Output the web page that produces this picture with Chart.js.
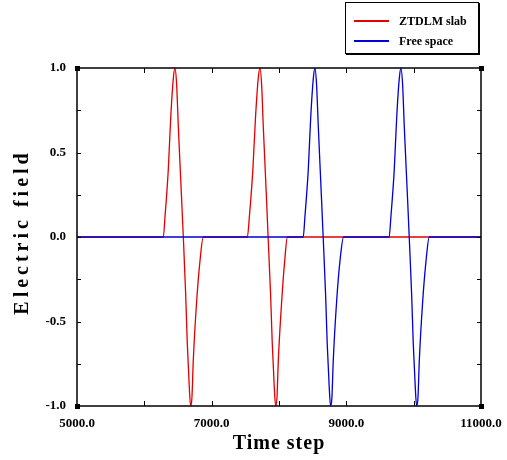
<!DOCTYPE html>
<html lang="en">
<head>
  <meta charset="UTF-8" />
  <title>Electric field vs time step</title>
  <script src="https://cdn.jsdelivr.net/npm/chart.js"></script>
  <style>
    html, body { margin: 0; padding: 0; background: #fff; }
    #wrap { position: relative; width: 507px; height: 460px; }
    #legend {
      position: absolute; left: 345px; top: 2px; width: 132px; height: 50px;
      border: 1px solid #000; box-shadow: 1px 1px 0 #000; background: #fff;
      font: bold 12px "Liberation Serif", serif; color: #000;
    }
    #legend .row { position: absolute; left: 8px; height: 14px; display: flex; align-items: center; }
    #legend .swatch { display: inline-block; width: 35px; height: 1.5px; margin-right: 10px; }
  </style>
</head>
<body>
  <div id="wrap">
    <canvas id="fieldChart" width="507" height="460"></canvas>
    <div id="legend"></div>
  </div>

  <script>
    // series labels / colours
    const seriesNames = ['ZTDLM slab', 'Free space'];
    const seriesColors = ['rgb(228,0,0)', 'rgb(0,0,215)'];

    // ZTDLM slab
    const redSteps = [5000, 6282, 6307, 6356, 6391, 6431, 6455, 6480, 6505, 6554, 6579, 6614, 6638, 6668, 6688, 6707, 6727, 6777, 6827, 6876,
                      7530, 7560, 7612, 7650, 7692, 7717, 7742, 7767, 7815, 7838, 7875, 7900, 7930, 7950, 7970, 7990, 8040, 8085, 8125, 11000];
    const redField = [0, 0, 0.12, 0.4, 0.7, 0.94, 1.0, 0.9, 0.65, 0.22, 0, -0.34, -0.63, -0.89, -1.0, -0.95, -0.73, -0.38, -0.14, 0,
                      0, 0.12, 0.4, 0.7, 0.94, 1.0, 0.9, 0.65, 0.22, 0, -0.34, -0.63, -0.89, -1.0, -0.95, -0.73, -0.38, -0.14, 0, 0];

    // Free space
    const blueSteps = [5000, 8360, 8385, 8435, 8470, 8510, 8534, 8558, 8584, 8632, 8656, 8692, 8716, 8746, 8766, 8786, 8806, 8856, 8906, 8960,
                       9636, 9662, 9712, 9747, 9787, 9811, 9836, 9861, 9910, 9934, 9970, 9994, 10024, 10044, 10064, 10084, 10134, 10184, 10232, 11000];
    const blueField = [0, 0, 0.12, 0.4, 0.7, 0.94, 1.0, 0.9, 0.65, 0.22, 0, -0.34, -0.63, -0.89, -1.0, -0.95, -0.73, -0.38, -0.14, 0,
                       0, 0.12, 0.4, 0.7, 0.94, 1.0, 0.9, 0.65, 0.22, 0, -0.34, -0.63, -0.89, -1.0, -0.95, -0.73, -0.38, -0.14, 0, 0];

    // axes
    const xTickLabels = ['5000.0', '7000.0', '9000.0', '11000.0'];
    const yTickLabels = ['-1.0', '-0.5', '0.0', '0.5', '1.0'];
    const xTitle = 'Time step';
    const yTitle = 'Electric field';

    function toPoints(xs, ys) {
      return xs.map((x, i) => ({ x: x, y: ys[i] }));
    }

    // legend (html)
    const legend = document.getElementById('legend');
    seriesNames.forEach((name, i) => {
      const row = document.createElement('div');
      row.className = 'row';
      row.style.top = (11 + i * 20) + 'px';
      const sw = document.createElement('span');
      sw.className = 'swatch';
      sw.style.backgroundColor = seriesColors[i];
      row.appendChild(sw);
      row.appendChild(document.createTextNode(name));
      legend.appendChild(row);
    });

    // frame, inward ticks, corner squares, axis titles
    const framePlugin = {
      id: 'frame',
      afterDraw(chart) {
        const { ctx, chartArea: a, scales } = chart;
        ctx.save();
        ctx.strokeStyle = '#000';
        ctx.fillStyle = '#000';
        ctx.lineWidth = 1.5;
        ctx.strokeRect(a.left, a.top, a.right - a.left, a.bottom - a.top);

        ctx.lineWidth = 1;
        ctx.beginPath();
        for (let v = 6000; v <= 10000; v += 1000) {
          const px = Math.round(scales.x.getPixelForValue(v)) + 0.5;
          ctx.moveTo(px, a.bottom); ctx.lineTo(px, a.bottom - 5);
          ctx.moveTo(px, a.top); ctx.lineTo(px, a.top + 5);
        }
        for (let v = -0.75; v <= 0.75; v += 0.25) {
          const py = Math.round(scales.y.getPixelForValue(v)) + 0.5;
          ctx.moveTo(a.left, py); ctx.lineTo(a.left + 4, py);
          ctx.moveTo(a.right, py); ctx.lineTo(a.right - 4, py);
        }
        ctx.stroke();

        [[a.left, a.top], [a.right, a.top], [a.left, a.bottom], [a.right, a.bottom]].forEach(p => {
          ctx.fillRect(p[0] - 2, p[1] - 2, 5, 5);
        });

        ctx.font = 'bold 20px "Liberation Serif", serif';
        ctx.letterSpacing = '1px';
        ctx.textAlign = 'center';
        ctx.textBaseline = 'middle';
        ctx.fillText(xTitle, (a.left + a.right) / 2, 444);
        ctx.translate(23, 232);
        ctx.rotate(-Math.PI / 2);
        ctx.letterSpacing = '4px';
        ctx.fillText(yTitle, 0, 0);
        ctx.restore();
      }
    };

    const ctx = document.getElementById('fieldChart').getContext('2d');
    const fieldChart = new Chart(ctx, {
      type: 'line',
      data: {
        datasets: [
          {
            label: seriesNames[0],
            data: toPoints(redSteps, redField),
            borderColor: seriesColors[0],
            borderWidth: 1.3,
            pointRadius: 0,
            cubicInterpolationMode: 'monotone',
            order: 1
          },
          {
            label: seriesNames[1],
            data: toPoints(blueSteps, blueField),
            borderColor: seriesColors[1],
            borderWidth: 1.3,
            pointRadius: 0,
            cubicInterpolationMode: 'monotone',
            order: 0
          }
        ]
      },
      options: {
        responsive: false,
        animation: false,
        layout: { padding: { left: 0, top: 68, right: 26, bottom: 0 } },
        plugins: {
          legend: { display: false },
          tooltip: { enabled: false }
        },
        scales: {
          x: {
            type: 'linear',
            min: 5000,
            max: 11000,
            grid: { display: false },
            border: { display: false },
            afterFit(scale) { scale.height = 54; },
            ticks: {
              stepSize: 1000,
              autoSkip: false,
              maxRotation: 0,
              padding: 2,
              color: '#000',
              font: { family: '"Liberation Serif", serif', size: 13, weight: 'bold' },
              callback: v => xTickLabels.find(l => parseFloat(l) === v) || ''
            }
          },
          y: {
            min: -1,
            max: 1,
            grid: { display: false },
            border: { display: false },
            afterFit(scale) { scale.width = 77; },
            ticks: {
              stepSize: 0.5,
              padding: 3,
              color: '#000',
              font: { family: '"Liberation Serif", serif', size: 13, weight: 'bold' },
              callback: v => yTickLabels.find(l => parseFloat(l) === v) || ''
            }
          }
        }
      },
      plugins: [framePlugin]
    });
  </script>
</body>
</html>
